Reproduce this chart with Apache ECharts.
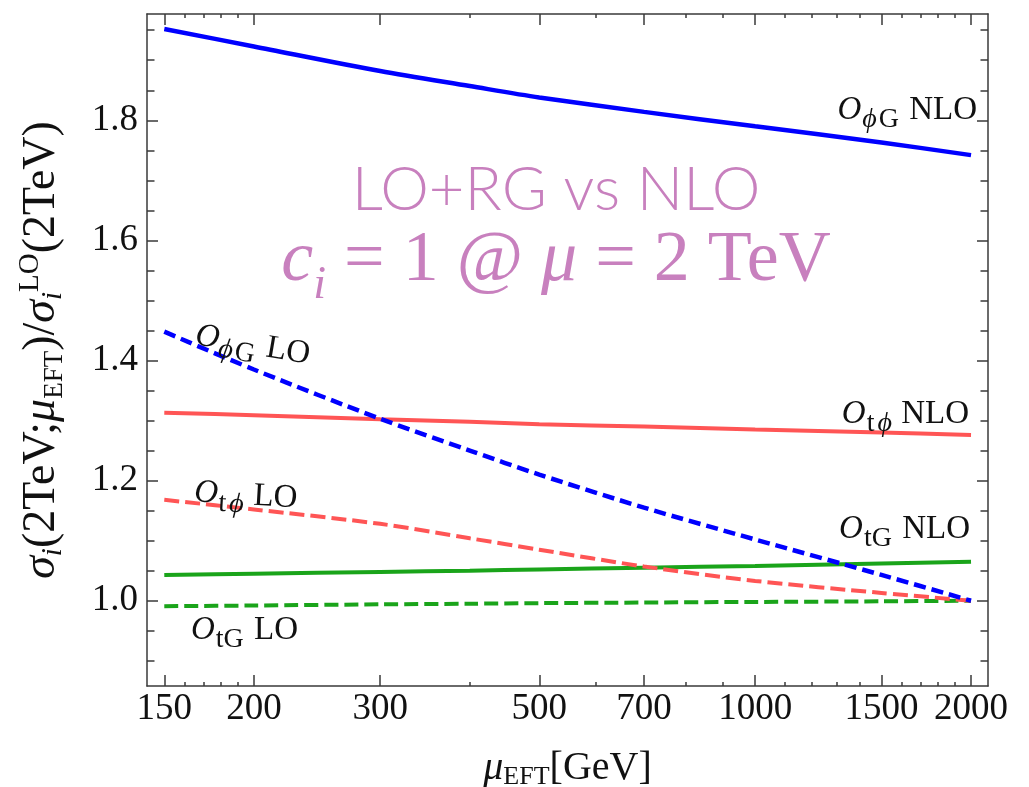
<!DOCTYPE html>
<html>
<head>
<meta charset="utf-8">
<script src="https://cdn.jsdelivr.net/npm/echarts@6/dist/echarts.min.js"></script>
<style>
html, body { margin: 0; padding: 0; background: #fff; }
#main { width: 1029px; height: 787px; }
</style>
</head>
<body>
<div id="main"></div>
<script>
var myChart = echarts.init(document.getElementById('main'));

// mu_EFT sample points (GeV)
var muValues = [150, 200, 300, 400, 500, 700, 1000, 1500, 2000];
// ratios
var phiGNLO = [1.952, 1.923, 1.882, 1.857, 1.838, 1.814, 1.790, 1.763, 1.742];
var phiGLO  = [1.448, 1.385, 1.303, 1.250, 1.210, 1.155, 1.102, 1.043, 1.000];
var tPhiNLO = [1.313, 1.309, 1.302, 1.298, 1.294, 1.290, 1.285, 1.280, 1.276];
var tPhiLO  = [1.168, 1.152, 1.128, 1.104, 1.085, 1.057, 1.033, 1.013, 1.000];
var tGNLO   = [1.043, 1.045, 1.048, 1.050, 1.052, 1.055, 1.058, 1.062, 1.065];
var tGLO    = [0.991, 0.992, 0.994, 0.995, 0.996, 0.997, 0.998, 0.999, 1.000];

// ticks
var xMajor = [150, 200, 300, 500, 700, 1000, 1500, 2000];
var xMinor = [160, 170, 180, 190, 400, 600, 800, 900, 1100, 1200, 1300, 1400, 1600, 1700, 1800, 1900];
var yMajor = [1.0, 1.2, 1.4, 1.6, 1.8];
var yMinor = [0.9, 0.95, 1.05, 1.1, 1.15, 1.25, 1.3, 1.35, 1.45, 1.5, 1.55, 1.65, 1.7, 1.75, 1.85, 1.9, 1.95];

var xMin = 141.9, xMax = 2112;
var yMin = 0.858, yMax = 1.977;

var serif = 'Liberation Serif';
var frameColor = '#3a3a3a';
var pink = '#C880BE';

function pairs(ys) {
    return muValues.map(function (x, i) { return [x, ys[i]]; });
}

function xAx(pos, ticks, len, labels, line) {
    return {
        type: 'log', position: pos, min: xMin, max: xMax,
        axisLine: { show: line, lineStyle: { color: frameColor, width: 1.5 } },
        axisTick: { show: true, inside: true, length: len, customValues: ticks,
                    lineStyle: { color: frameColor, width: 1.5 } },
        axisLabel: labels ? { show: true, customValues: ticks, margin: 5,
                    fontFamily: serif, fontSize: 37, color: '#111',
                    formatter: function (v) { return String(Math.round(v)); } } : { show: false },
        splitLine: { show: false }, minorTick: { show: false }
    };
}
function yAx(pos, ticks, len, labels, line) {
    return {
        type: 'value', position: pos, min: yMin, max: yMax,
        axisLine: { show: line, lineStyle: { color: frameColor, width: 1.5 } },
        axisTick: { show: true, inside: true, length: len, customValues: ticks,
                    lineStyle: { color: frameColor, width: 1.5 } },
        axisLabel: labels ? { show: true, customValues: ticks, margin: 9,
                    fontFamily: serif, fontSize: 37, color: '#111',
                    formatter: function (v) { return v.toFixed(1); } } : { show: false },
        splitLine: { show: false }
    };
}

var xAxes = [
    xAx('bottom', xMajor, 11, true, true),
    xAx('bottom', xMinor, 4, false, false),
    xAx('top', xMajor, 11, false, true),
    xAx('top', xMinor, 4, false, false)
];
xAxes[0].name = '{it|μ}{sub|EFT}{n|[GeV]}';
xAxes[0].nameLocation = 'middle';
xAxes[0].nameGap = 62;
xAxes[0].nameTextStyle = {
    rich: {
        it: { fontFamily: serif, fontStyle: 'italic', fontSize: 40, color: '#111', lineHeight: 42, verticalAlign: 'top' },
        n: { fontFamily: serif, fontSize: 40, color: '#111', lineHeight: 42, verticalAlign: 'top' },
        sub: { fontFamily: serif, fontSize: 26, color: '#111', lineHeight: 26, verticalAlign: 'bottom' }
    }
};

var yAxes = [
    yAx('left', yMajor, 11, true, true),
    yAx('left', yMinor, 7.5, false, false),
    yAx('right', yMajor, 11, false, true),
    yAx('right', yMinor, 7.5, false, false)
];
yAxes[0].name = '{it|σ}{sub|i}{n|(2TeV;}{it|μ}{sub2|EFT}{n|)/}{it|σ}{sub|i}{sup|LO}{n|(2TeV)}';
yAxes[0].nameLocation = 'middle';
yAxes[0].nameRotate = 90;
yAxes[0].nameGap = 79;
yAxes[0].nameTextStyle = {
    rich: {
        it: { fontFamily: serif, fontStyle: 'italic', fontSize: 46, color: '#111', lineHeight: 52, verticalAlign: 'middle' },
        n: { fontFamily: serif, fontSize: 46, color: '#111', lineHeight: 52, verticalAlign: 'middle' },
        sub: { fontFamily: serif, fontStyle: 'italic', fontSize: 29, color: '#111', lineHeight: 29, verticalAlign: 'bottom' },
        sub2: { fontFamily: serif, fontSize: 27, color: '#111', lineHeight: 27, verticalAlign: 'bottom' },
        sup: { fontFamily: serif, fontSize: 29, color: '#111', lineHeight: 29, verticalAlign: 'top' }
    }
};

function lineSeries(name, ys, color, width, dash) {
    return {
        name: name, type: 'line', data: pairs(ys),
        xAxisIndex: 0, yAxisIndex: 0,
        smooth: 0.3, showSymbol: false, symbol: 'none',
        lineStyle: { color: color, width: width, type: dash || 'solid' },
        emphasis: { disabled: true }
    };
}

// main glyphs sit at the top of a 40px line, subscripts at its bottom
var labelRich = {
    o: { fontFamily: serif, fontStyle: 'italic', fontSize: 33, fill: '#111', lineHeight: 40, verticalAlign: 'top' },
    n: { fontFamily: serif, fontSize: 33, fill: '#111', lineHeight: 40, verticalAlign: 'top' },
    si: { fontFamily: serif, fontStyle: 'italic', fontSize: 28, fill: '#111', lineHeight: 28, verticalAlign: 'bottom', padding: [0, 1, 0, 1] },
    s: { fontFamily: serif, fontSize: 28, fill: '#111', lineHeight: 28, verticalAlign: 'bottom', padding: [0, 2, 0, 1] }
};

function curveLabel(text, x, y, align, rot) {
    return {
        type: 'text', x: x, y: y, rotation: rot || 0, z: 100,
        style: { text: text, rich: labelRich, align: align, verticalAlign: 'middle' }
    };
}

option = {
    backgroundColor: '#fff',
    animation: false,
    grid: { left: 147, right: 41, top: 14, bottom: 101, containLabel: false, outerBoundsMode: 'none' },
    xAxis: xAxes,
    yAxis: yAxes,
    series: [
        lineSeries('OphiG NLO', phiGNLO, '#0000FF', 4.5),
        lineSeries('Otphi NLO', tPhiNLO, '#FF5555', 4),
        lineSeries('OtG NLO', tGNLO, '#1AA41A', 4),
        lineSeries('OtG LO', tGLO, '#1AA41A', 4, [14, 6]),
        lineSeries('Otphi LO', tPhiLO, '#FF5555', 4, [15, 6]),
        lineSeries('OphiG LO', phiGLO, '#0000FF', 4.5, [12, 6])
    ],
    graphic: [
        curveLabel('{o|O}{si|ϕ}{s|G}{n| NLO}', 977, 114, 'right'),
        curveLabel('{o|O}{s|t}{si|ϕ}{n| NLO}', 969, 418, 'right'),
        curveLabel('{o|O}{s|tG}{n| NLO}', 970, 533, 'right'),
        curveLabel('{o|O}{si|ϕ}{s|G}{n| LO}', 195, 339, 'left', -0.17),
        curveLabel('{o|O}{s|t}{si|ϕ}{n| LO}', 194, 496, 'left', -0.06),
        curveLabel('{o|O}{s|tG}{n| LO}', 191, 634, 'left'),
        {
            type: 'text', x: 556, y: 190, z: 100,
            style: { text: 'LO+RG vs NLO', fontFamily: 'Lato', fontWeight: 300, fontSize: 61.5,
                     fill: pink, align: 'center', verticalAlign: 'middle' }
        },
        {
            type: 'text', x: 556, y: 267, z: 100,
            style: {
                text: '{it|c}{sub|i}{n| = 1 @ }{it|μ}{n| = 2 TeV}',
                align: 'center', verticalAlign: 'middle',
                rich: {
                    it: { fontFamily: serif, fontStyle: 'italic', fontSize: 72, fill: pink, lineHeight: 83, verticalAlign: 'top' },
                    n: { fontFamily: serif, fontSize: 72, fill: pink, lineHeight: 83, verticalAlign: 'top' },
                    sub: { fontFamily: serif, fontStyle: 'italic', fontSize: 46, fill: pink, lineHeight: 46, verticalAlign: 'bottom' }
                }
            }
        }
    ]
};

myChart.setOption(option);
</script>
</body>
</html>
